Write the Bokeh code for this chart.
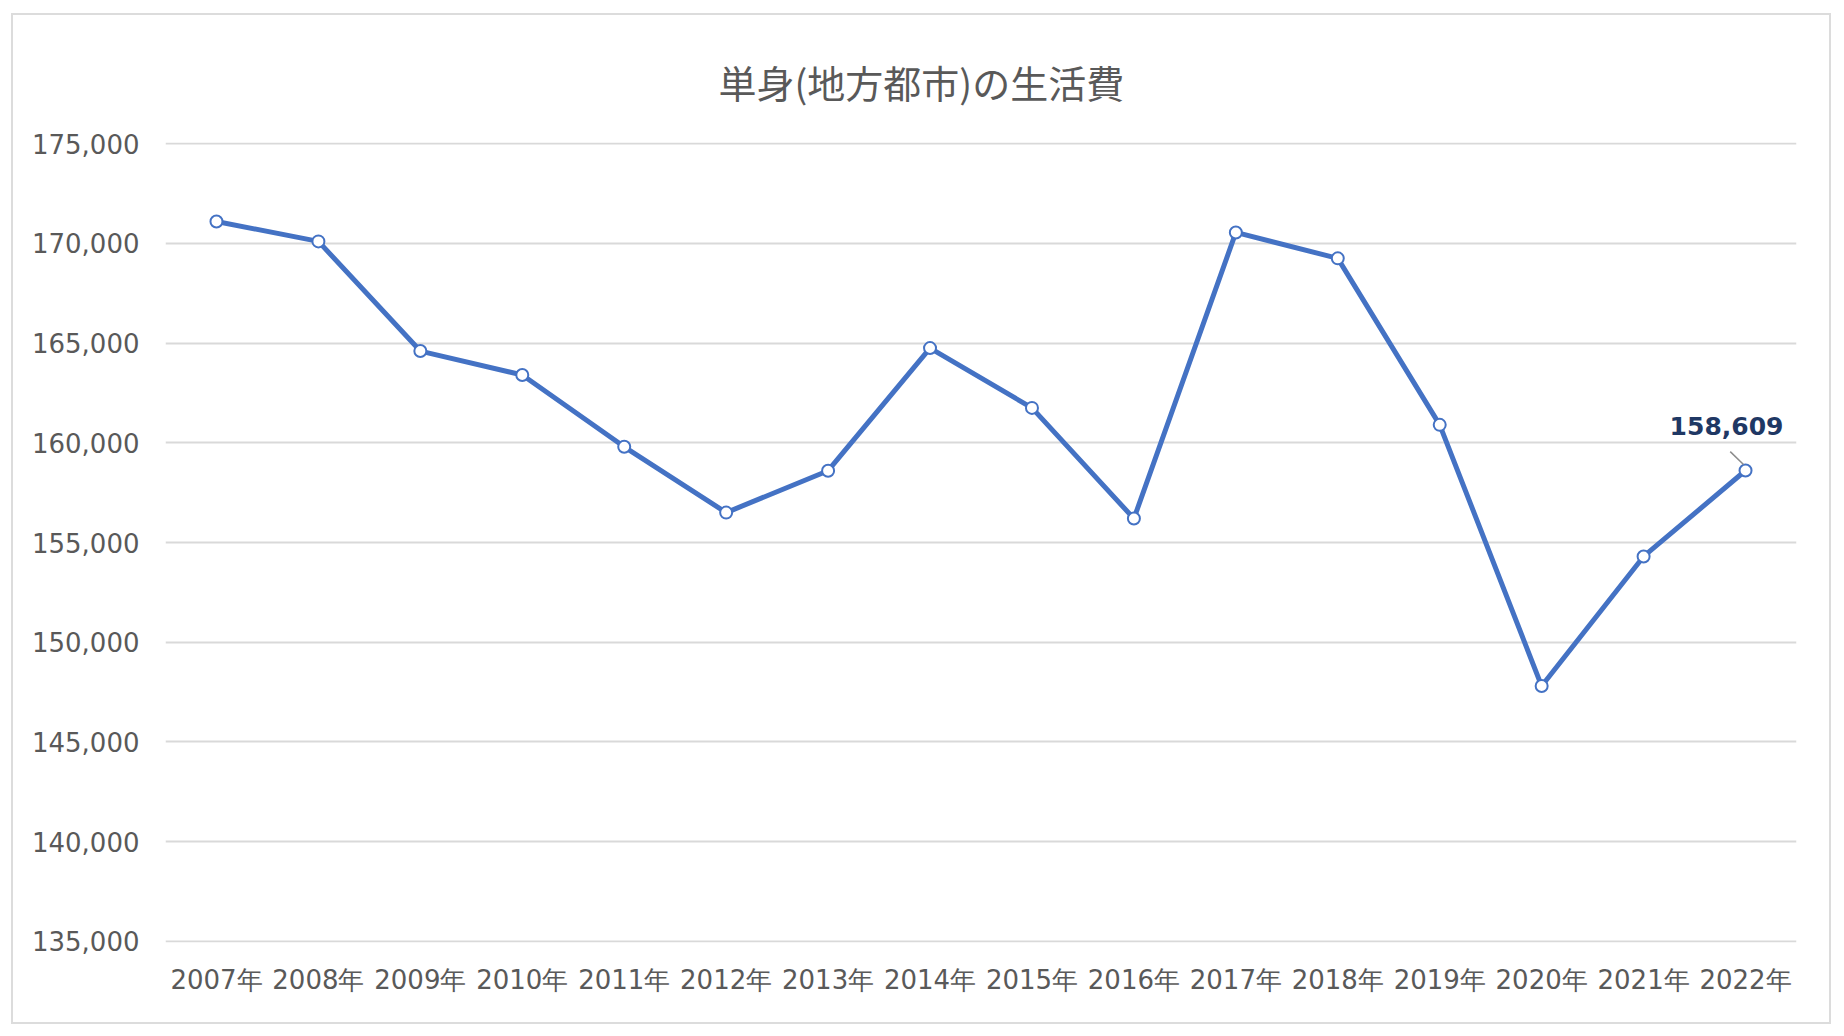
from bokeh.plotting import figure
from bokeh.models import FactorRange, Range1d, FixedTicker, NumeralTickFormatter, ColumnDataSource
from bokeh.transform import dodge
from bokeh.core.properties import value
from bokeh.embed import file_html
from bokeh.resources import INLINE

title_text = "単身(地方都市)の生活費"
years = ["2007年", "2008年", "2009年", "2010年", "2011年", "2012年", "2013年", "2014年",
         "2015年", "2016年", "2017年", "2018年", "2019年", "2020年", "2021年", "2022年"]
costs = [171100, 170100, 164600, 163400, 159800, 156500, 158600, 164750,
         161750, 156200, 170550, 169250, 160900, 147800, 154300, 158609]
y_ticks = [135000, 140000, 145000, 150000, 155000, 160000, 165000, 170000, 175000]
label_text = ["158,609"]

BLUE = "#4472C4"
GRAY = "#595959"
GRID = "#d9d9d9"

p = figure(
    width=1816, height=1007,
    x_range=FactorRange(factors=years),
    y_range=Range1d(y_ticks[0] - 60, y_ticks[-1] + 60),
    output_backend="svg", toolbar_location=None,
    min_border_left=152, min_border_right=33, min_border_top=127, min_border_bottom=80,
    background_fill_color="white", border_fill_color="white",
)
p.margin = (15, 0, 0, 13)
p.styles = {"outline": "2px solid #dcdcdc"}
p.outline_line_color = None

p.title.text = title_text
p.title.align = "left"
p.title.offset = 553
p.title.text_font = "Noto Sans CJK JP"
p.title.text_font_size = "38px"
p.title.text_font_style = "normal"
p.title.text_color = GRAY
p.title.standoff = 68

p.xgrid.grid_line_color = None
p.ygrid.grid_line_color = GRID
p.ygrid.grid_line_width = 2

p.yaxis.ticker = FixedTicker(ticks=y_ticks)
p.yaxis.formatter = NumeralTickFormatter(format="0,0")
for ax in (p.xaxis, p.yaxis):
    ax.axis_line_color = None
    ax.major_tick_line_color = None
    ax.minor_tick_line_color = None
    ax.major_label_text_color = GRAY
    ax.major_label_text_font = "DejaVu Sans"
    ax.major_label_text_font_size = "26px"
p.yaxis.major_label_standoff = 20
p.xaxis.major_label_standoff = 16

src = ColumnDataSource(data=dict(x=years, y=costs))
p.line("x", "y", source=src, line_color=BLUE, line_width=5)
p.scatter("x", "y", source=src, size=12, fill_color="white", line_color=BLUE, line_width=2)

last = ColumnDataSource(data=dict(x=[years[-1]], y=[costs[-1]], t=label_text))
p.segment(x0=dodge("x", -0.02, range=p.x_range), y0=dodge("y", 300),
          x1=dodge("x", -0.15, range=p.x_range), y1=dodge("y", 950),
          source=last, line_color="#8c8c8c", line_width=1.5)
p.text(x="x", y="y", text="t", source=last, x_offset=-19, y_offset=-45,
       text_align="center", text_baseline="middle",
       text_font=value("DejaVu Sans"), text_font_size="25px", text_font_style="bold",
       text_color="#1F3864")

open("out.html", "w").write(file_html(p, INLINE))
